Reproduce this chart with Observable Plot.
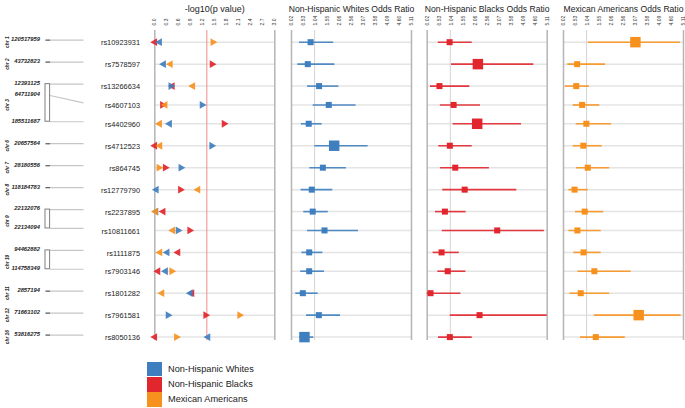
<!DOCTYPE html>
<html><head><meta charset="utf-8">
<script src="https://cdn.jsdelivr.net/npm/d3@7"></script>
<script src="https://cdn.jsdelivr.net/npm/@observablehq/plot@0.6"></script>
<style>
body{margin:0;background:#fff;font-family:"Liberation Sans",Arial,sans-serif;}
#chart{position:relative;width:685px;height:408px;overflow:hidden;background:#fff;}
#chart svg{position:absolute;left:0;top:0;}
.legend{position:absolute;left:147px;top:361.5px;}
.item{display:flex;align-items:center;height:15.2px;font-size:9.2px;color:#222;}
.sw{width:14.5px;height:14.5px;margin-right:6.5px;}
</style></head><body><div id="chart"></div><script>
// ---------- data ----------
const snps = ["rs10923931","rs7578597","rs13266634","rs4607103","rs4402960","rs4712523","rs864745","rs12779790","rs2237895","rs10811661","rs1111875","rs7903146","rs1801282","rs7961581","rs8050136"];
const chromosomes = ["chr 1","chr 2","chr 3","chr 3","chr 3","chr 6","chr 7","chr 8","chr 9","chr 9","chr 10","chr 10","chr 11","chr 12","chr 16"];
const positions = [120517959,43732823,12393125,64711904,185511687,20657564,28180556,118184783,22132076,22134094,94462882,114758349,2857194,71663102,53816275];
const groups = ["Non-Hispanic Whites","Non-Hispanic Blacks","Mexican Americans"];
const colors = ["#3f7fbf","#e1262d","#f7911e"];

// -log10(p value)
const pWhites  = [0.12,0.22,0.40,1.18,0.37,1.42,0.65,0.04,0.03,0.58,0.31,0.27,0.89,0.33,1.33];
const pBlacks  = [0.00,1.43,0.44,0.19,1.73,0.00,0.26,0.64,0.21,0.87,0.58,0.08,0.93,1.27,0.00];
const pMexican = [1.45,0.39,0.95,0.26,0.12,0.13,0.10,1.08,0.02,0.45,0.13,0.42,0.18,2.12,0.54];

// odds ratios and 95% CI
const orWhites = [0.83,0.71,1.19,1.60,0.75,1.83,1.35,0.88,0.92,1.42,0.77,0.77,0.50,1.18,0.57];
const loWhites = [0.36,0.29,0.70,0.94,0.44,1.01,0.80,0.43,0.54,0.70,0.46,0.41,0.20,0.66,0.37];
const hiWhites = [1.81,1.86,2.03,2.76,1.32,3.27,2.35,1.77,1.58,2.86,1.35,1.42,1.15,2.10,0.97];

const orBlacks = [0.97,2.17,0.54,1.14,2.14,0.98,1.21,1.61,0.77,2.99,0.63,0.89,0.16,2.24,0.98];
const loBlacks = [0.49,1.05,0.16,0.58,1.12,0.51,0.58,0.68,0.37,0.66,0.27,0.47,0.02,1.00,0.50];
const hiBlacks = [1.93,4.54,1.83,2.28,4.02,1.93,2.66,3.82,1.67,4.99,1.38,1.66,1.45,5.11,1.93];

const orMexican = [3.07,0.60,0.56,0.81,0.99,0.86,1.05,0.49,0.92,0.61,0.87,1.33,0.75,3.21,1.39];
const loMexican = [1.07,0.20,0.10,0.43,0.56,0.43,0.57,0.25,0.53,0.25,0.46,0.63,0.29,1.33,0.74];
const hiMexican = [4.98,1.80,1.12,1.56,2.06,1.66,1.98,1.07,1.73,1.62,1.62,2.89,1.98,5.01,2.64];

const pTicks  = [0.0,0.3,0.6,0.9,1.2,1.5,1.8,2.1,2.4,2.7,3.0];
const orTicks = [0.02,0.53,1.04,1.55,2.06,2.56,3.07,3.58,4.09,4.60,5.11];
const pTitle = "-log10(p value)";
const orTitles = ["Non-Hispanic Whites Odds Ratio","Non-Hispanic Blacks Odds Ratio","Mexican Americans Odds Ratio"];

// ---------- derived ----------
const P = [pWhites,pBlacks,pMexican], OR = [orWhites,orBlacks,orMexican], LO = [loWhites,loBlacks,loMexican], HI = [hiWhites,hiBlacks,hiMexican];
const sigLevel = -Math.log10(0.05);
const GAP = 0.166;
let gi = -1;
const rows = snps.map((snp, i) => {
  if (i === 0 || chromosomes[i] !== chromosomes[i-1]) gi++;
  return {i, snp, chr: chromosomes[i], pos: positions[i], slot: i + gi * GAP};
});
const chrGroups = d3.groups(rows, d => d.chr).map(([chr, rs]) => {
  const lo = d3.min(rs, d => d.pos), hi = d3.max(rs, d => d.pos);
  const top = rs[0].slot, bot = rs[rs.length - 1].slot, multi = rs.length > 1;
  rs.forEach(r => { r.mapY = multi ? top + (r.pos - lo) / (hi - lo) * (bot - top) : r.slot; r.multi = multi; });
  return {chr, top, bot, mid: d3.mean(rs, d => d.slot), multi};
});
const maxSlot = d3.max(rows, d => d.slot);
const yOpt = {domain: [-0.62, maxSlot + 0.18], reverse: true, axis: null};
const pts = groups.map((g, k) => rows.map(r => ({slot: r.slot, p: P[k][r.i], or: OR[k][r.i], lo: LO[k][r.i], hi: HI[k][r.i]})));

const triRight = {draw(ctx, size){ const s = Math.sqrt(size*4/Math.sqrt(3)), h = s*Math.sqrt(3)/2; ctx.moveTo(2*h/3,0); ctx.lineTo(-h/3,-s/2); ctx.lineTo(-h/3,s/2); ctx.closePath(); }};
const triLeft  = {draw(ctx, size){ const s = Math.sqrt(size*4/Math.sqrt(3)), h = s*Math.sqrt(3)/2; ctx.moveTo(-2*h/3,0); ctx.lineTo(h/3,-s/2); ctx.lineTo(h/3,s/2); ctx.closePath(); }};

const FONT = '"Liberation Sans", Arial, sans-serif';
const base = (x, marks) => Plot.plot({
  width: 685, height: 408, marginTop: 30, marginBottom: 68, marginLeft: 0, marginRight: 0,
  x: {...x, label: null}, y: yOpt,
  style: {background: "transparent", fontFamily: FONT, color: "#333"},
  marks
});
const chart = document.getElementById("chart");
const add = el => chart.appendChild(el);

// ---------- left: chromosome map + SNP names ----------
const BAR = 0.12;
add(base({domain: [0, 1], range: [45, 83], axis: null}, [
  Plot.link(rows, {x1: d => d.multi ? BAR : 0, y1: "mapY", x2: 1, y2: "slot", stroke: "#c6c6c6", strokeWidth: 1.2, dy: -2}),
  Plot.rect(chrGroups.filter(g => g.multi), {x1: 0, x2: BAR, y1: "top", y2: "bot", fill: "white", stroke: "#8a8a8a", strokeWidth: 1.1, dy: -2}),
  Plot.link(rows.filter(d => !d.multi), {x1: 0, x2: BAR, y1: "slot", y2: "slot", stroke: "#666", strokeWidth: 1.2, dy: -2}),
  Plot.text(rows, {x: 0, y: "mapY", text: d => String(d.pos), textAnchor: "end", dx: -5.5, dy: -3, fontSize: 5.8, fontStyle: "italic", fontWeight: "bold", fill: "#222"}),
  Plot.text(chrGroups, {x: 0, y: "mid", text: "chr", rotate: -90, dx: -38.5, fontSize: 4.8, fontStyle: "italic", fontWeight: "bold", fill: "#222"}),
  Plot.text(rows, {x: 1, y: "slot", text: "snp", textAnchor: "end", dx: 56.5, dy: 0.8, fontSize: 7.4, fill: "#222"})
]));

// ---------- p value panel ----------
const pDomain = [pTicks[0], pTicks[pTicks.length - 1]];
const triMarks = [1, 0, 2].flatMap(k => [
  Plot.dot(pts[k].filter(d => d.or > 1), {x: "p", y: "slot", symbol: triRight, r: 2.9, fill: colors[k], fillOpacity: 0.92, stroke: "none"}),
  Plot.dot(pts[k].filter(d => d.or <= 1), {x: "p", y: "slot", symbol: triLeft, r: 2.9, fill: colors[k], fillOpacity: 0.92, stroke: "none"})
]);
add(base({domain: pDomain, range: [154.3, 274.3]}, [
  Plot.ruleY(rows, {y: "slot", x1: pDomain[0], x2: pDomain[1], stroke: "#e4e4e4", strokeWidth: 1.5}),
  Plot.ruleX(pDomain, {stroke: "#b5b5b5", strokeWidth: 1.5}),
  Plot.ruleX([sigLevel], {stroke: "#f28b8b", strokeWidth: 1}),
  Plot.axisX(pTicks, {anchor: "top", tickSize: 0, tickPadding: 5, tickRotate: -90, tickFormat: d3.format(".1f"), fontSize: 5, label: null}),
  Plot.text([pTitle], {x: d3.mean(pDomain), frameAnchor: "top", dy: -25, fontSize: 9, fill: "#222"}),
  ...triMarks
]));

// ---------- odds ratio panels ----------
const orDomain = [orTicks[0], orTicks[orTicks.length - 1]];
const panelStarts = [291, 426.7, 563];
groups.forEach((g, k) => {
  add(base({domain: orDomain, range: [panelStarts[k], panelStarts[k] + 120]}, [
    Plot.ruleY(rows, {y: "slot", x1: orDomain[0], x2: orDomain[1], stroke: "#e4e4e4", strokeWidth: 1.5}),
    Plot.ruleX(orDomain, {stroke: "#b5b5b5", strokeWidth: 1.5}),
    Plot.ruleX([1], {stroke: "#d4d4d4", strokeWidth: 1}),
    Plot.axisX(orTicks, {anchor: "top", tickSize: 0, tickPadding: 5, tickRotate: -90, tickFormat: d3.format(".2f"), fontSize: 5, label: null}),
    Plot.text([orTitles[k]], {x: d3.mean(orDomain), frameAnchor: "top", dy: -25, fontSize: 8.6, fill: "#222"}),
    Plot.ruleY(pts[k], {y: "slot", x1: "lo", x2: "hi", stroke: colors[k], strokeWidth: 1.6, strokeOpacity: 0.9}),
    Plot.dot(pts[k].filter(d => d.p <= sigLevel), {x: "or", y: "slot", symbol: "square", r: 3.4, fill: colors[k], stroke: "none"}),
    Plot.dot(pts[k].filter(d => d.p > sigLevel), {x: "or", y: "slot", symbol: "square", r: 5.9, fill: colors[k], stroke: "none"})
  ]));
});

// ---------- legend ----------
const leg = document.createElement("div");
leg.className = "legend";
groups.forEach((g, k) => {
  const it = document.createElement("div"); it.className = "item";
  const sw = document.createElement("div"); sw.className = "sw"; sw.style.background = colors[k];
  const tx = document.createElement("span"); tx.textContent = g;
  it.appendChild(sw); it.appendChild(tx); leg.appendChild(it);
});
chart.appendChild(leg);
</script></body></html>
